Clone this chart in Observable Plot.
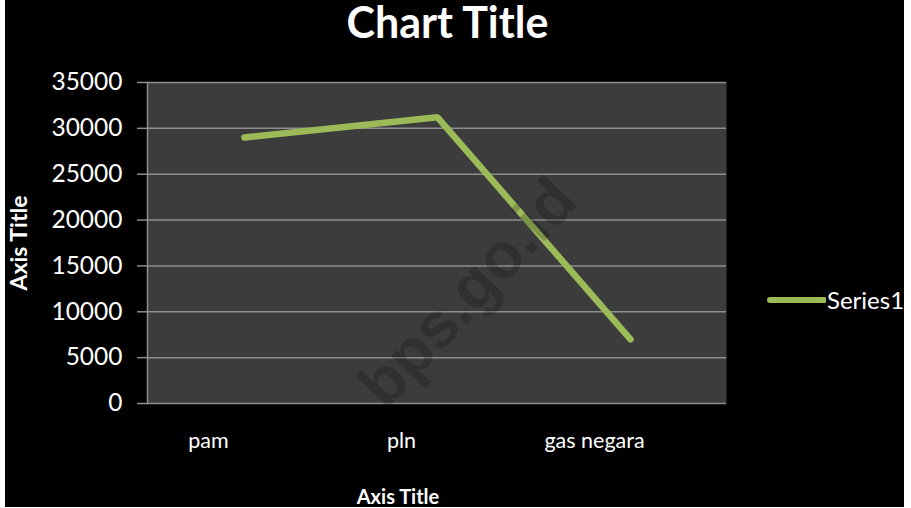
<!DOCTYPE html>
<html>
<head>
<meta charset="utf-8">
<script src="https://cdn.jsdelivr.net/npm/d3@7"></script>
<script src="https://cdn.jsdelivr.net/npm/@observablehq/plot@0.6"></script>
<style>
  html, body { margin: 0; padding: 0; background: #ffffff; width: 911px; height: 508px; overflow: hidden; }
  #card { position: absolute; left: 5px; top: 0; width: 899px; height: 507px; background: #000; overflow: hidden; font-family: Lato, "Open Sans", sans-serif; color: #fff; }
  #chart { position: absolute; left: 0; top: 0; }
  .title { position: absolute; left: 0; top: 0; width: 885px; text-align: center; font-weight: bold; font-size: 43px; line-height: 44px; color: #fff; }
  .ytitle { position: absolute; left: 13px; top: 243px; transform: translate(-50%, -50%) rotate(-90deg); font-weight: bold; font-size: 23px; white-space: nowrap; }
  .xtitle { position: absolute; left: 393px; top: 484px; transform: translateX(-50%); font-weight: bold; font-size: 20px; white-space: nowrap; }
  .legend { position: absolute; left: 761px; top: 285px; display: flex; align-items: center; font-size: 24px; }
  .legend svg { margin-right: 1px; }
  .wm { position: absolute; left: 462px; top: 292px; transform: translate(-50%, -50%) rotate(-47deg); font-family: "Liberation Sans", Arial, sans-serif; font-weight: bold; font-size: 64px; color: rgba(0,0,0,0.2); white-space: nowrap; pointer-events: none; }
</style>
</head>
<body>
<div id="card">
  <div id="chart"></div>
  <div class="title">Chart Title</div>
  <div class="ytitle">Axis Title</div>
  <div class="xtitle">Axis Title</div>
  <div class="legend" id="legend"></div>
  <div class="wm">bps.go.id</div>
</div>
<script>
const categories = ["pam", "pln", "gas negara"];
const values = [29000, 31200, 7000];
const yTicks = [0, 5000, 10000, 15000, 20000, 25000, 30000, 35000];
const seriesName = "Series1";
const lineColor = "#9BBB59";

const data = categories.map((c, i) => ({category: c, value: values[i]}));

const chart = Plot.plot({
  width: 899,
  height: 507,
  marginLeft: 142,
  marginRight: 178,
  marginTop: 82,
  marginBottom: 104,
  style: {background: "transparent", fontFamily: "Lato, 'Open Sans', sans-serif", color: "#fff"},
  x: {type: "point", domain: categories, padding: 0.5},
  y: {domain: [0, 35000]},
  marks: [
    Plot.frame({fill: "#3c3c3c", stroke: null}),
    Plot.gridY(yTicks, {stroke: "#8e8e8e", strokeOpacity: 1, strokeWidth: 1.5}),
    Plot.frame({anchor: "left", stroke: "#8e8e8e", strokeWidth: 1.5}),
    Plot.axisY(yTicks, {
      tickSize: 10, tickPadding: 15, stroke: "#8e8e8e", strokeWidth: 1.5,
      fill: "#fff", fontSize: 24.5, tickFormat: d => String(d), label: null
    }),
    Plot.axisX({tickSize: 0, tickPadding: 29, dx: -36, fill: "#fff", fontSize: 21.5, label: null}),
    Plot.line(data, {x: "category", y: "value", stroke: lineColor, strokeWidth: 6.5, strokeLinecap: "round", strokeLinejoin: "miter"})
  ]
});
document.getElementById("chart").appendChild(chart);

const legend = document.getElementById("legend");
legend.innerHTML = `<svg width="60" height="10"><line x1="4" y1="5" x2="58" y2="5" stroke="${lineColor}" stroke-width="6" stroke-linecap="round"/></svg><span>${seriesName}</span>`;
</script>
</body>
</html>
